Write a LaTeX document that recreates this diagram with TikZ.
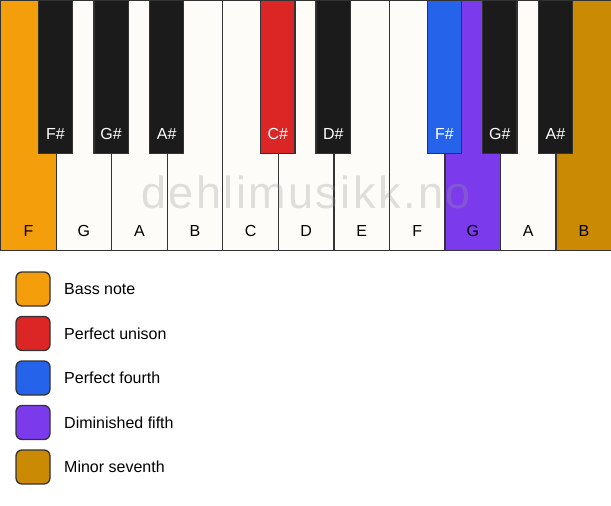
\documentclass[tikz,border=0pt]{standalone}
\usepackage{fontspec}
\setmainfont{Liberation Sans}
\definecolor{keyline}{HTML}{333333}
\definecolor{ivory}{HTML}{FEFCF8}
\definecolor{ebony}{HTML}{1B1B1B}
\definecolor{cbass}{HTML}{F59E0B}
\definecolor{cunison}{HTML}{DC2626}
\definecolor{cfourth}{HTML}{2563EB}
\definecolor{cfifth}{HTML}{7C3AED}
\definecolor{cseventh}{HTML}{CA8A04}
\definecolor{wmark}{HTML}{999999}
\begin{document}
\begin{tikzpicture}[x=1pt,y=-1pt,
  whitekey/.style={draw=keyline, line width=1.3pt, fill=ivory, rectangle, anchor=north west,
    minimum width=55.545pt, minimum height=250pt, inner sep=0pt, outer sep=0pt},
  blackkey/.style={draw=keyline, line width=1.3pt, fill=ebony, rectangle, anchor=north,
    minimum width=34.4pt, minimum height=153pt, inner sep=0pt, outer sep=0pt},
  wlabel/.style={font=\fontsize{16}{19}\selectfont, text=black, anchor=center},
  blabel/.style={font=\fontsize{16}{19}\selectfont, text=white, anchor=center},
  legbox/.style={draw=keyline, line width=1.3pt, rounded corners=6pt, rectangle,
    minimum width=34pt, minimum height=34pt, inner sep=0pt},
  legtext/.style={font=\fontsize{16}{19}\selectfont, anchor=west, inner sep=0pt},
  watermark/.style={font=\fontsize{45}{50}\selectfont\addfontfeature{LetterSpace=5.4}, text=wmark, text opacity=0.3, anchor=center}
]
\useasboundingbox (0,0) rectangle (611,506);
\fill[white] (0,0) rectangle (611,506);
% white keys
\foreach \i/\n/\c in {0/F/cbass,1/G/ivory,2/A/ivory,3/B/ivory,4/C/ivory,5/D/ivory,6/E/ivory,7/F/ivory,8/G/cfifth,9/A/ivory,10/B/cseventh}{
  \node[whitekey, fill=\c] (w\i) at ({\i*55.545+0.65},0.65) {};
  \node[wlabel] (wl\i) at ([yshift=20pt]w\i.south) {\n};
}
% black keys
\foreach \i/\n/\c in {1/F\#/ebony,2/G\#/ebony,3/A\#/ebony,5/C\#/cunison,6/D\#/ebony,8/F\#/cfourth,9/G\#/ebony,10/A\#/ebony}{
  \node[blackkey, fill=\c] (b\i) at ({\i*55.545},0.65) {};
  \node[blabel] (bl\i) at ([yshift=20pt]b\i.south) {\n};
}
% watermark
\node[watermark] (wm) at (306,192) {dehlimusikk.no};
% legend
\foreach \k/\c/\t in {0/cbass/Bass note,1/cunison/Perfect unison,2/cfourth/Perfect fourth,3/cfifth/Diminished fifth,4/cseventh/Minor seventh}{
  \node[legbox, fill=\c] (lg\k) at (33,{289+\k*44.5}) {};
  \node[legtext] (lt\k) at (64,{289+\k*44.5}) {\t};
}
\end{tikzpicture}
\end{document}
